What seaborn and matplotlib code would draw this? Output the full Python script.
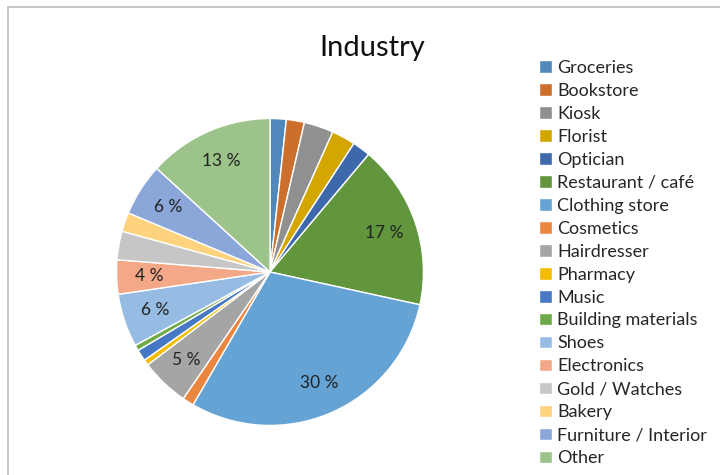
import matplotlib
matplotlib.use("Agg")
import matplotlib.pyplot as plt
from matplotlib.patches import Rectangle
import seaborn as sns

categories = [
    "Groceries", "Bookstore", "Kiosk", "Florist", "Optician",
    "Restaurant / café", "Clothing store", "Cosmetics", "Hairdresser",
    "Pharmacy", "Music", "Building materials", "Shoes", "Electronics",
    "Gold / Watches", "Bakery", "Furniture / Interior", "Other",
]
shares = [1.7, 1.9, 3.1, 2.5, 1.9, 17.3, 29.9, 1.2, 5.1,
          0.6, 1.2, 0.6, 5.6, 3.6, 3.0, 2.0, 5.5, 13.2]
colors = [
    "#5088BC", "#CC6F2C", "#909090", "#D4A700", "#3E68AC", "#62963C",
    "#64A3D4", "#EA8640", "#A5A5A5", "#F5BD00", "#4778C4", "#6EAB48",
    "#97BCE3", "#F3A887", "#C6C6C6", "#FFD27E", "#8BA7DA", "#9CC38A",
]
title = "Industry"
label_min = 3.5

sns.set_theme(style="white")
plt.rcParams["font.family"] = ["Lato", "DejaVu Sans"]
palette = sns.color_palette(colors)

fig = plt.figure(figsize=(7.2, 4.75), dpi=100)
fig.patch.set_facecolor("white")

# chart frame
fig.add_artist(Rectangle((8 / 720, -0.05), 1.1, 1 - 7 / 475 + 0.05,
                         transform=fig.transFigure, fill=False,
                         edgecolor="#BDBDBD", linewidth=1.2))

ax = fig.add_axes([0.1597, 0.1011, 0.4306, 0.6526])
total = sum(shares)


def pct_label(pct):
    v = pct * total / 100
    return f"{v:.0f} %" if v >= label_min else ""


wedges, texts, autotexts = ax.pie(
    shares, colors=palette, startangle=90, counterclock=False,
    autopct=pct_label, pctdistance=0.79, radius=1,
    wedgeprops=dict(edgecolor="white", linewidth=1.0),
    textprops=dict(fontsize=12.5, color="#222222"),
)
ax.set_xlim(-1.01, 1.01)
ax.set_ylim(-1.01, 1.01)
ax.set_aspect("equal")
ax.axis("off")

fig.text(372 / 720, 1 - 48 / 475, title, ha="center", va="center",
         fontsize=21, color="#111111")

fig.legend(wedges, categories, loc="upper left",
           bbox_to_anchor=(539 / 720, 1 - 60 / 475),
           frameon=False, fontsize=13, handlelength=0.7, handleheight=0.7,
           handletextpad=0.3, labelspacing=0.385, borderpad=0,
           borderaxespad=0)

fig.savefig("out.png", dpi=100, facecolor="white")
